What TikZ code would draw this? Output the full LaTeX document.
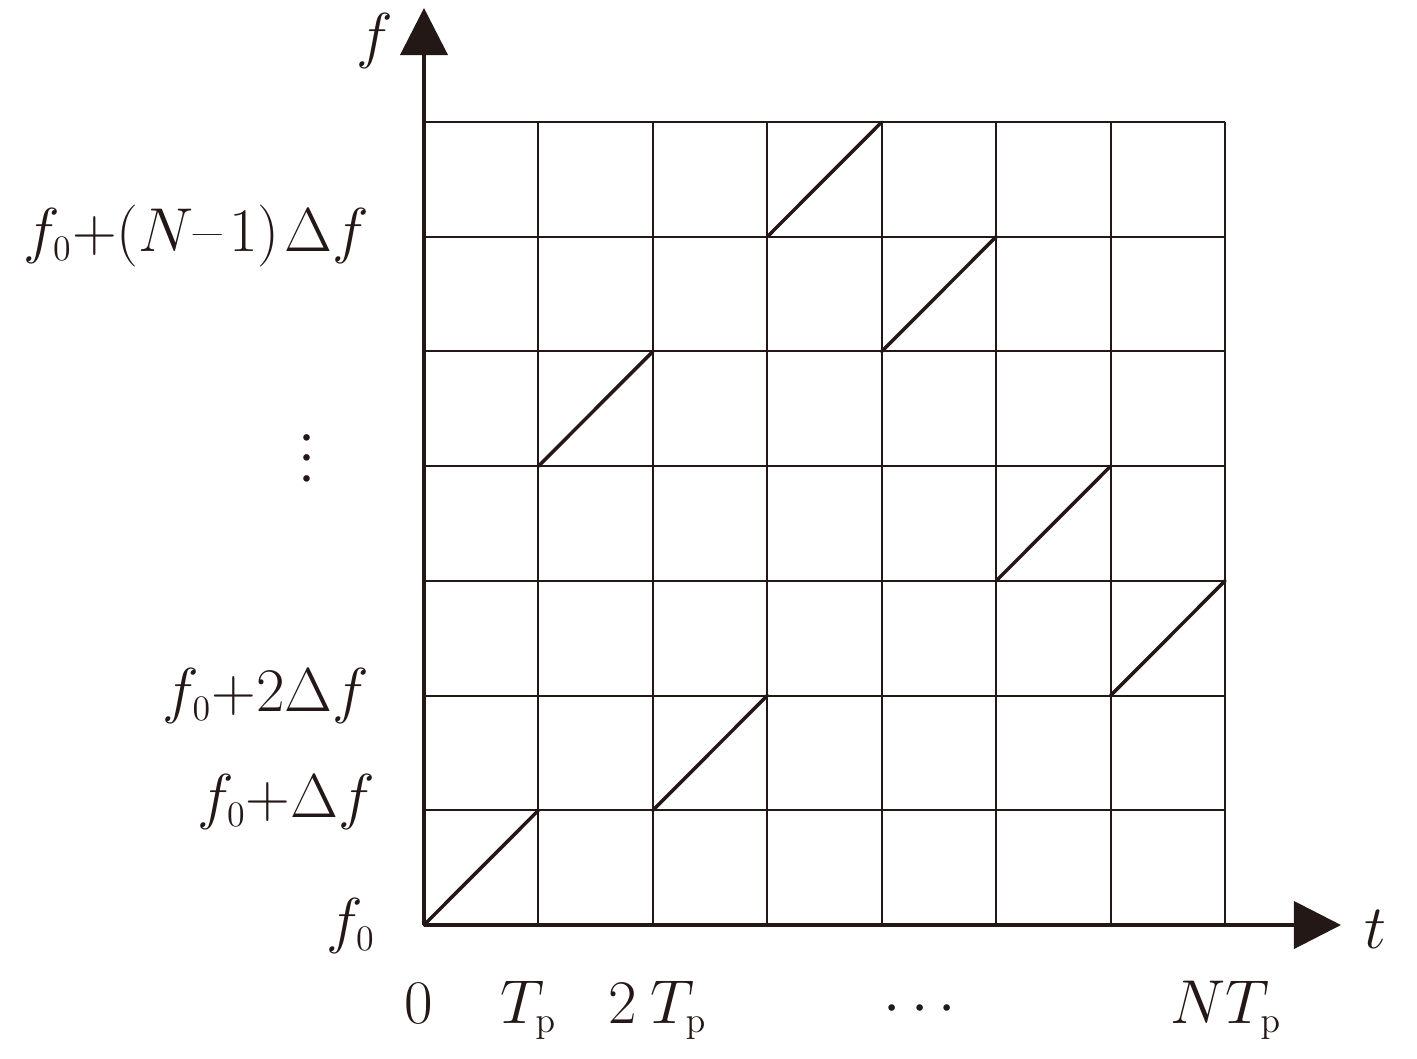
\documentclass[tikz,border=0pt]{standalone}
\usetikzlibrary{arrows.meta}
\definecolor{ink}{HTML}{231815}
\DeclareMathSizes{24.88}{24.88}{14.4}{12}
\begin{document}
\begin{tikzpicture}[x=0.4013pt,y=-0.4013pt,
  lbl/.style={inner sep=0pt,outer sep=0pt,text=ink,font=\fontsize{24.88}{30}\selectfont},
  gridline/.style={draw=ink,line width=0.8pt},
  ramp/.style={draw=ink,line width=1.4pt,line cap=round},
  axis/.style={draw=ink,line width=1.6pt,-{Triangle[length=18.9pt,width=18.9pt]}}]
\useasboundingbox (0,0) rectangle (1417,1058);
% grid
\foreach \j in {1,...,7} {
  \draw[gridline] (424,{925-\j*114.71}) -- (1225,{925-\j*114.71});
}
\foreach \i in {1,...,7} {
  \draw[gridline] ({424+\i*114.43},925) -- ({424+\i*114.43},122);
}
% ramps (column, row)
\foreach \c/\r in {0/0,1/4,2/1,3/6,4/5,5/3,6/2} {
  \draw[ramp] ({424+\c*114.43},{925-\r*114.71}) -- ({424+(\c+1)*114.43},{925-(\r+1)*114.71});
}
% axes
\coordinate (O) at (424,925);
\coordinate (Ytip) at (424,8);
\coordinate (Xtip) at (1341,925);
\draw[axis] (O) -- (Ytip);
\draw[axis] (O) -- (Xtip);
% axis labels
\node[lbl,anchor=base west] (fl) at (356,56) {$f$};
\node[lbl,anchor=base west] (tl) at (1364,948) {$t$};
% frequency labels
\node[lbl,anchor=base east] (fN) at (369,251) {$f_0{+}(N\mbox{--}\mkern2mu 1)\mkern1.5mu\Delta f$};
\node[lbl,anchor=center,rotate=90] (vd) at (309,458) {$\cdotp\mkern-2mu\cdotp\mkern-2mu\cdotp$};
\node[lbl,anchor=base east] (f2) at (369,711) {$f_0{+}2\Delta f$};
\node[lbl,anchor=base east] (f1) at (375,817) {$f_0{+}\Delta f$};
\node[lbl,anchor=base east] (f0) at (375,941) {$f_0$};
% time labels
\node[lbl,anchor=base] (t0) at (419,1023) {$0$};
\node[lbl,anchor=base west] (t1) at (500,1023) {$T_{\mathrm{p}}$};
\node[lbl,anchor=base west] (t2) at (608,1023) {$2\mkern4mu T_{\mathrm{p}}$};
\node[lbl,anchor=base] (td) at (920,1023) {$\cdots$};
\node[lbl,anchor=base west] (tN) at (1170,1023) {$NT_{\mathrm{p}}$};
\end{tikzpicture}
\end{document}
